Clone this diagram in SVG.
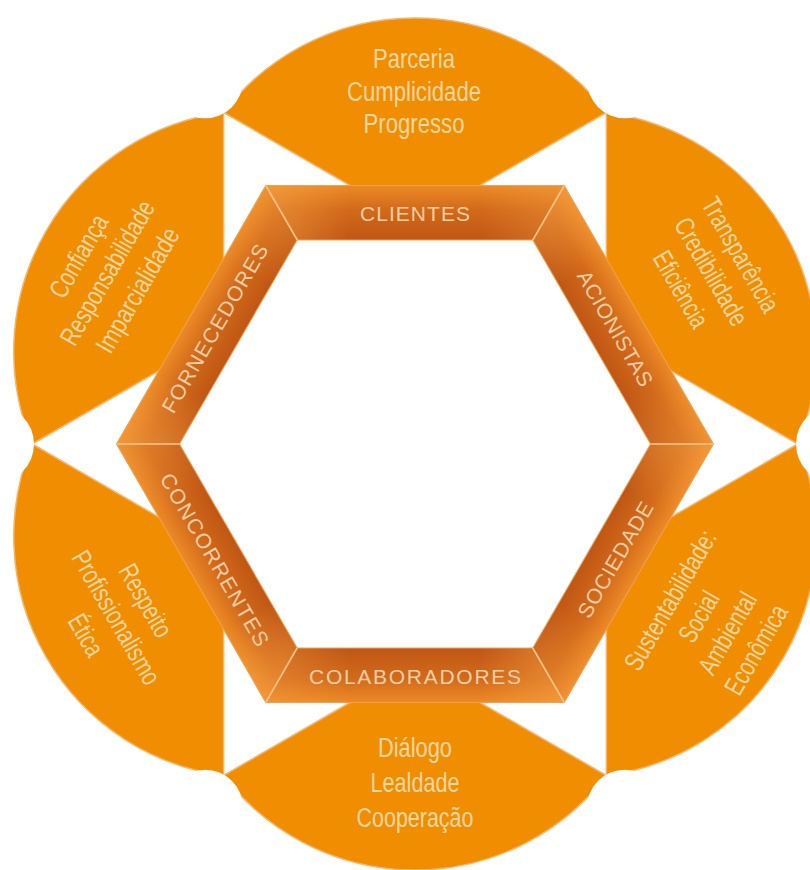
<svg xmlns="http://www.w3.org/2000/svg" xmlns:xlink="http://www.w3.org/1999/xlink" width="810" height="870" viewBox="0 0 810 870">
<defs>
<style>
.petal{fill:#F18D00;stroke:#F6B46A;stroke-width:1.5;stroke-linejoin:round}
.ptxt{font-family:"Liberation Sans","Noto Sans",Arial,sans-serif;font-size:27px;fill:#FAD6A2;text-anchor:middle}
.rtxt{font-family:"Liberation Sans","Noto Sans",Arial,sans-serif;font-size:21px;fill:#F6CFA6;text-anchor:middle}
.band{fill:url(#bandV);stroke:#F0A055;stroke-width:1}
.sheen{fill:url(#bandH);stroke:none}
.corner{stroke:#F9C287;stroke-width:1.6;fill:none}
.hole{fill:#FFFFFF}
</style>
<linearGradient id="bandV" x1="0" y1="0" x2="0" y2="1">
<stop offset="0" stop-color="#EC8A26"/>
<stop offset="0.45" stop-color="#D2691A"/>
<stop offset="1" stop-color="#BF5714"/>
</linearGradient>
<linearGradient id="bandH" x1="0" y1="0" x2="1" y2="0">
<stop offset="0" stop-color="#F7A245" stop-opacity="0.6"/>
<stop offset="0.28" stop-color="#F7A245" stop-opacity="0"/>
<stop offset="0.72" stop-color="#F7A245" stop-opacity="0"/>
<stop offset="1" stop-color="#F7A245" stop-opacity="0.4"/>
</linearGradient>
<path id="petalShape" d="M-191.4,-331.5 A241.1,241.1 0 0 1 191.4,-331.5 L0,-221 Z"/>
<path id="bandShape" d="M-149.25,-258.5 L149.25,-258.5 L117.75,-204 L-117.75,-204 Z"/>
</defs>

<g id="petals">
<g id="petal-clientes">
<use xlink:href="#petalShape" class="petal" transform="translate(415,444)"/>
<text class="ptxt" x="414" y="68" textLength="82" lengthAdjust="spacingAndGlyphs">Parceria</text>
<text class="ptxt" x="414" y="100.5" textLength="134" lengthAdjust="spacingAndGlyphs">Cumplicidade</text>
<text class="ptxt" x="414" y="133" textLength="101" lengthAdjust="spacingAndGlyphs">Progresso</text>
</g>
<g id="petal-accionistas">
<use xlink:href="#petalShape" class="petal" transform="translate(415,444) rotate(60)"/>
<g transform="translate(711.5,271.5) rotate(60)">
<text class="ptxt" x="0" y="-24.5" textLength="128" lengthAdjust="spacingAndGlyphs">Transparência</text>
<text class="ptxt" x="0" y="9.5" textLength="120" lengthAdjust="spacingAndGlyphs">Credibilidade</text>
<text class="ptxt" x="0" y="44.5" textLength="84" lengthAdjust="spacingAndGlyphs">Eficiência</text>
</g>
</g>
<g id="petal-sociedade">
<use xlink:href="#petalShape" class="petal" transform="translate(415,444) rotate(120)"/>
<g transform="translate(712.9,624.8) rotate(-60)">
<text class="ptxt" x="0" y="-40" textLength="157" lengthAdjust="spacingAndGlyphs">Sustentabilidade:</text>
<text class="ptxt" x="0" y="-7" textLength="54" lengthAdjust="spacingAndGlyphs">Social</text>
<text class="ptxt" x="0" y="26" textLength="90" lengthAdjust="spacingAndGlyphs">Ambiental</text>
<text class="ptxt" x="0" y="59" textLength="99" lengthAdjust="spacingAndGlyphs">Econômica</text>
</g>
</g>
<g id="petal-colaboradores">
<use xlink:href="#petalShape" class="petal" transform="translate(415,444) rotate(180)"/>
<text class="ptxt" x="415" y="757" textLength="74" lengthAdjust="spacingAndGlyphs">Diálogo</text>
<text class="ptxt" x="415" y="792" textLength="89" lengthAdjust="spacingAndGlyphs">Lealdade</text>
<text class="ptxt" x="415" y="826.5" textLength="117" lengthAdjust="spacingAndGlyphs">Cooperação</text>
</g>
<g id="petal-concorrentes">
<use xlink:href="#petalShape" class="petal" transform="translate(415,444) rotate(240)"/>
<g transform="translate(116.5,617.5) rotate(60)">
<text class="ptxt" x="0" y="-24.5" textLength="80" lengthAdjust="spacingAndGlyphs">Respeito</text>
<text class="ptxt" x="0" y="9.5" textLength="150" lengthAdjust="spacingAndGlyphs">Profissionalismo</text>
<text class="ptxt" x="0" y="44.5" textLength="44" lengthAdjust="spacingAndGlyphs">Ética</text>
</g>
</g>
<g id="petal-fornecedores">
<use xlink:href="#petalShape" class="petal" transform="translate(415,444) rotate(300)"/>
<g transform="translate(107,272.5) rotate(-60)">
<text class="ptxt" x="0" y="-23.5" textLength="91" lengthAdjust="spacingAndGlyphs">Confiança</text>
<text class="ptxt" x="0" y="9.5" textLength="162" lengthAdjust="spacingAndGlyphs">Responsabilidade</text>
<text class="ptxt" x="0" y="44.5" textLength="140" lengthAdjust="spacingAndGlyphs">Imparcialidade</text>
</g>
</g>
</g>

<g id="junction-cutouts" transform="translate(415,444)">
<circle class="hole" cx="-210" cy="-363.7" r="38"/>
<circle class="hole" cx="210" cy="-363.7" r="38"/>
<circle class="hole" cx="420" cy="0" r="39"/>
<circle class="hole" cx="210" cy="363.7" r="38"/>
<circle class="hole" cx="-210" cy="363.7" r="38"/>
<circle class="hole" cx="-420" cy="0" r="39"/>
</g>

<g id="ring">
<g id="clientes">
<g transform="translate(415,444)"><use xlink:href="#bandShape" class="band"/><use xlink:href="#bandShape" class="sheen"/></g>
<text class="rtxt" x="415" y="221" textLength="110" lengthAdjust="spacing">CLIENTES</text>
</g>
<g id="accionistas">
<g transform="translate(415,444) rotate(60)"><use xlink:href="#bandShape" class="band"/><use xlink:href="#bandShape" class="sheen"/></g>
<text class="rtxt" transform="translate(615.3,328.4) rotate(60)" x="0" y="7.5" textLength="130" lengthAdjust="spacing">ACIONISTAS</text>
</g>
<g id="sociedade">
<g transform="translate(415,444) rotate(120)"><use xlink:href="#bandShape" class="band"/><use xlink:href="#bandShape" class="sheen"/></g>
<text class="rtxt" transform="translate(615.3,559.6) rotate(-60)" x="0" y="7.5" textLength="130" lengthAdjust="spacing">SOCIEDADE</text>
</g>
<g id="colaboradores">
<g transform="translate(415,444) rotate(180)"><use xlink:href="#bandShape" class="band"/><use xlink:href="#bandShape" class="sheen"/></g>
<text class="rtxt" x="415" y="684" textLength="212" lengthAdjust="spacing">COLABORADORES</text>
</g>
<g id="concorrentes">
<g transform="translate(415,444) rotate(240)"><use xlink:href="#bandShape" class="band"/><use xlink:href="#bandShape" class="sheen"/></g>
<text class="rtxt" transform="translate(214.7,559.6) rotate(60)" x="0" y="7.5" textLength="196" lengthAdjust="spacing">CONCORRENTES</text>
</g>
<g id="fornecedores">
<g transform="translate(415,444) rotate(300)"><use xlink:href="#bandShape" class="band"/><use xlink:href="#bandShape" class="sheen"/></g>
<text class="rtxt" transform="translate(214.7,328.4) rotate(-60)" x="0" y="7.5" textLength="191" lengthAdjust="spacing">FORNECEDORES</text>
</g>
<g id="ring-corners" transform="translate(415,444)">
<line class="corner" x1="-149.25" y1="-258.5" x2="-117.75" y2="-204"/>
<line class="corner" x1="-149.25" y1="-258.5" x2="-117.75" y2="-204" transform="rotate(60)"/>
<line class="corner" x1="-149.25" y1="-258.5" x2="-117.75" y2="-204" transform="rotate(120)"/>
<line class="corner" x1="-149.25" y1="-258.5" x2="-117.75" y2="-204" transform="rotate(180)"/>
<line class="corner" x1="-149.25" y1="-258.5" x2="-117.75" y2="-204" transform="rotate(240)"/>
<line class="corner" x1="-149.25" y1="-258.5" x2="-117.75" y2="-204" transform="rotate(300)"/>
</g>
</g>

<g id="connectors"/>
</svg>
